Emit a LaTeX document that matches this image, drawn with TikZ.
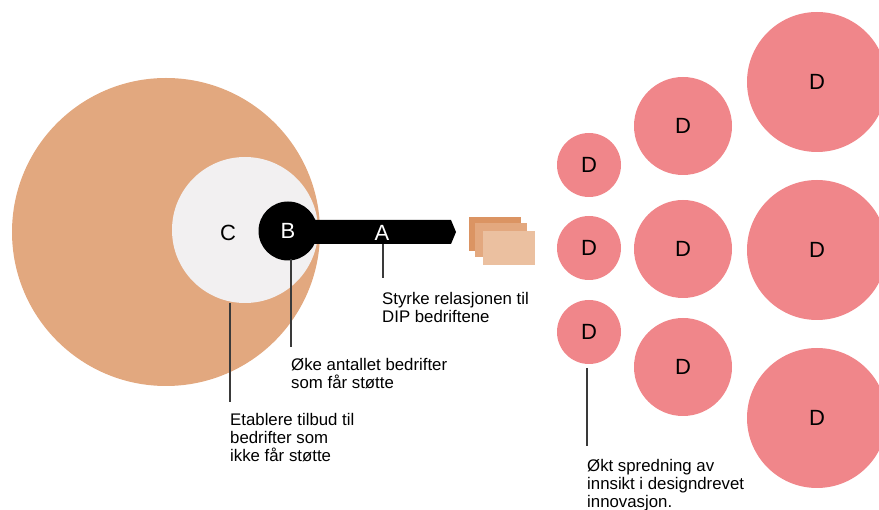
\documentclass[tikz,border=0pt]{standalone}
\usepackage{fontspec}
\setmainfont{Liberation Sans}
\definecolor{tan}{HTML}{E2A87F}
\definecolor{paleg}{HTML}{F2F0F1}
\definecolor{pinkd}{HTML}{F0868A}
\definecolor{rectA}{HTML}{DB9463}
\definecolor{rectB}{HTML}{E3A87F}
\definecolor{rectC}{HTML}{EBC0A0}
\definecolor{leader}{HTML}{3A3A3A}
\begin{document}
\begin{tikzpicture}[x=1pt,y=-1pt,
  disc/.style={circle,inner sep=0pt,font=\fontsize{22}{22}\selectfont},
  dnode/.style={disc,fill=pinkd,text=black},
  lead/.style={draw=leader,line width=1.1pt},
  note/.style={anchor=base west,inner sep=0pt,align=left,font=\fontsize{16.8}{18}\selectfont}]
\useasboundingbox (0,0) rectangle (879,510);
\clip (0,0) rectangle (879,510);
% left group
\node[disc,fill=tan,minimum size=308pt] (big) at (166,232) {};
\node[disc,fill=paleg,minimum size=146pt] (C) at (245,230) {};
\node[font=\fontsize{22}{22}\selectfont] (Clab) at (228,233) {C};
% arrow A
\path[fill=black] (300,220) -- (451,220) -- (456,232) -- (451,244) -- (300,244) -- cycle;
\node[disc,fill=black,text=white,minimum size=59pt] (B) at (288,231) {B};
\node[text=white,font=\fontsize{22}{22}\selectfont,inner sep=0pt] (A) at (382,233) {A};
\coordinate (Abot) at (383,244);
% stacked rectangles
\fill[rectA] (469,217) rectangle (521,251);
\fill[rectB] (475,223) rectangle (527,257);
\fill[rectC] (483,231) rectangle (535,265);
% D circles
\node[dnode,minimum size=64pt] (d1) at (589,165) {D};
\node[dnode,minimum size=64pt] (d2) at (589,248) {D};
\node[dnode,minimum size=64pt] (d3) at (589,332) {D};
\node[dnode,minimum size=98pt] (d4) at (683,126) {D};
\node[dnode,minimum size=98pt] (d5) at (683,249) {D};
\node[dnode,minimum size=98pt] (d6) at (683,367) {D};
\node[dnode,minimum size=140pt] (d7) at (817,82) {D};
\node[dnode,minimum size=140pt] (d8) at (817,250) {D};
\node[dnode,minimum size=140pt] (d9) at (817,418) {D};
% labels (base anchor = baseline of last line)
\node[note] (tA) at (382,323) {Styrke relasjonen til\\DIP bedriftene};
\node[note] (tB) at (291,389) {Øke antallet bedrifter\\som får støtte};
\node[note] (tC) at (230,462) {Etablere tilbud til\\bedrifter som\\ikke får støtte};
\node[note] (tD) at (587,508) {Økt spredning av\\innsikt i designdrevet\\innovasjon.};
% leaders
\coordinate (eA) at (383,278);
\coordinate (sB) at (291,259);
\coordinate (eB) at (291,347);
\coordinate (sC) at (230,303);
\coordinate (eC) at (230,402);
\coordinate (sD) at (587,368);
\coordinate (eD) at (587,446);
\draw[lead] (Abot) -- (eA);
\draw[lead] (sB) -- (eB);
\draw[lead] (sC) -- (eC);
\draw[lead] (sD) -- (eD);
\end{tikzpicture}
\end{document}
